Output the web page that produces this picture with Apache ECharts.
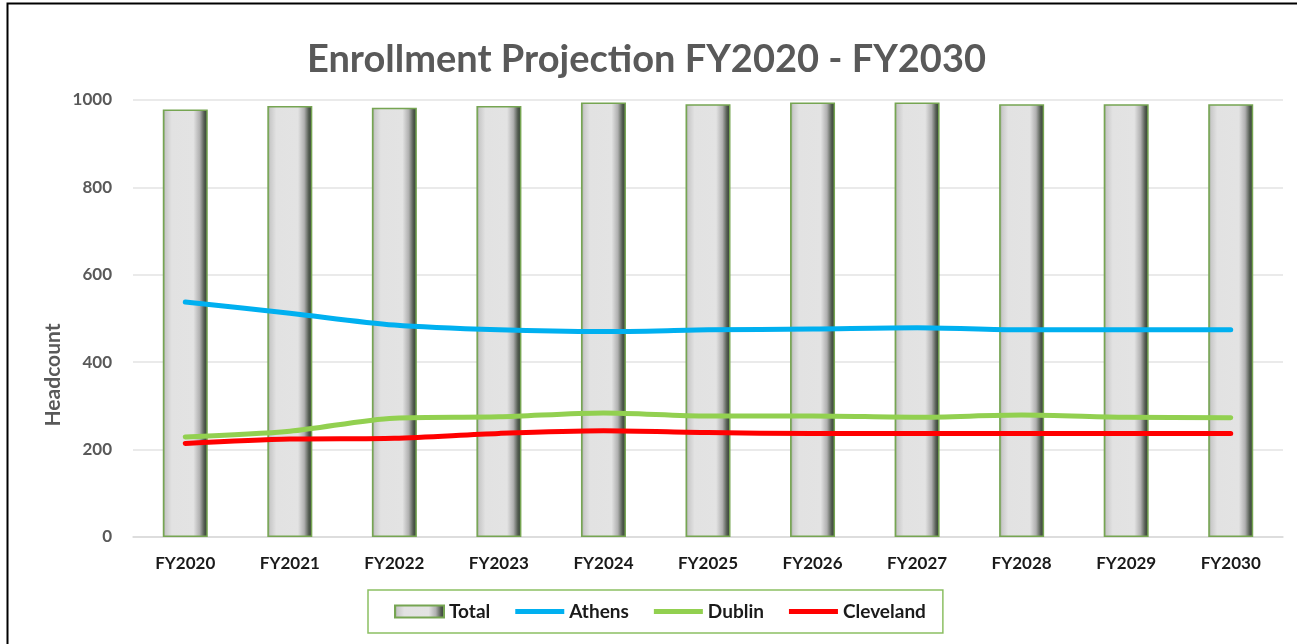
<!DOCTYPE html>
<html>
<head>
<meta charset="utf-8">
<script src="https://cdn.jsdelivr.net/npm/echarts@6/dist/echarts.min.js"></script>
<style>
  html, body { margin: 0; padding: 0; background: #fff; }
  #main { width: 1297px; height: 644px; }
</style>
</head>
<body>
<div id="main"></div>
<script>
// 数据
var years = ['FY2020', 'FY2021', 'FY2022', 'FY2023', 'FY2024', 'FY2025',
    'FY2026', 'FY2027', 'FY2028', 'FY2029', 'FY2030'];
var total = [978, 986, 982, 986, 994, 990, 994, 994, 990, 990, 990];
var athens = [538, 512, 485, 474, 470, 474, 476, 479, 474, 474, 474];
var dublin = [229, 242, 272, 275, 284, 277, 277, 274, 279, 274, 273];
var cleveland = [214, 224, 226, 237, 243, 239, 237, 237, 237, 237, 237];
var yTicks = [0, 200, 400, 600, 800, 1000];

var font = 'Lato, "Open Sans", sans-serif';

var myChart = echarts.init(document.getElementById('main'));

// 柱子的渐变，模拟立体效果
var barFill = new echarts.graphic.LinearGradient(0, 0, 1, 0, [
    { offset: 0, color: '#6f8f58' },
    { offset: 0.06, color: '#c9c9c9' },
    { offset: 0.2, color: '#e2e2e2' },
    { offset: 0.68, color: '#e3e3e3' },
    { offset: 0.82, color: '#b0b0b0' },
    { offset: 0.92, color: '#545c52' },
    { offset: 1, color: '#2c3a2c' }
]);

function lineSeries(name, data, color) {
    return {
        name: name,
        type: 'line',
        data: data,
        smooth: 0.3,
        symbol: 'none',
        lineStyle: { width: 5, color: color, cap: 'round', join: 'round' },
        itemStyle: { color: color },
        z: 3
    };
}

var linePath = 'path://M0,0 L49,0 L49,5 L0,5 Z';

var option = {
    animation: false,
    title: {
        text: 'Enrollment Projection FY2020 - FY2030',
        left: 302,
        top: 36,
        textStyle: { fontFamily: font, fontSize: 38, fontWeight: 'bold', color: '#595959' }
    },
    grid: { left: 133, right: 14, top: 100, bottom: 107 },
    legend: {
        left: 368,
        top: 590,
        itemWidth: 49,
        itemHeight: 12,
        itemGap: 25,
        padding: [12, 17, 12, 26],
        borderColor: '#8cc063',
        borderWidth: 1.5,
        textStyle: { fontFamily: font, fontSize: 19, fontWeight: 'bold', color: '#1a1a1a' },
        data: [
            { name: 'Total', icon: 'rect' },
            { name: 'Athens', icon: linePath },
            { name: 'Dublin', icon: linePath },
            { name: 'Cleveland', icon: linePath }
        ]
    },
    xAxis: {
        type: 'category',
        data: years,
        axisTick: { show: false },
        axisLine: { show: true, lineStyle: { color: '#d9d9d9', width: 1.5 } },
        axisLabel: { margin: 18, fontFamily: font, fontSize: 17, fontWeight: 'bold', color: '#1a1a1a' }
    },
    yAxis: {
        type: 'value',
        min: yTicks[0],
        max: yTicks[yTicks.length - 1],
        interval: 200,
        axisLine: { show: false },
        axisTick: { show: false },
        splitLine: { lineStyle: { color: '#e3e3e3', width: 1.5 } },
        axisLabel: {
            margin: 21, fontFamily: font, fontSize: 17, fontWeight: 'bold', color: '#595959',
            formatter: function (v) { return String(v); }
        }
    },
    graphic: [
        {
            type: 'rect',
            shape: { x: 7.5, y: 3.5, width: 1300, height: 660 },
            style: { fill: 'none', stroke: '#000', lineWidth: 2 },
            silent: true
        },
        {
            type: 'text',
            x: 53,
            y: 375,
            rotation: Math.PI / 2,
            style: {
                text: 'Headcount',
                fontFamily: font,
                fontSize: 21,
                fontWeight: 'bold',
                fill: '#595959',
                textAlign: 'center',
                textVerticalAlign: 'middle'
            }
        }
    ],
    series: [
        {
            name: 'Total',
            type: 'bar',
            data: total,
            barWidth: 45,
            itemStyle: {
                color: barFill,
                borderColor: '#76a552',
                borderWidth: 1.5
            },
            z: 2
        },
        lineSeries('Athens', athens, '#00b0f0'),
        lineSeries('Dublin', dublin, '#92d050'),
        lineSeries('Cleveland', cleveland, '#ff0000')
    ]
};

myChart.setOption(option);
</script>
</body>
</html>
